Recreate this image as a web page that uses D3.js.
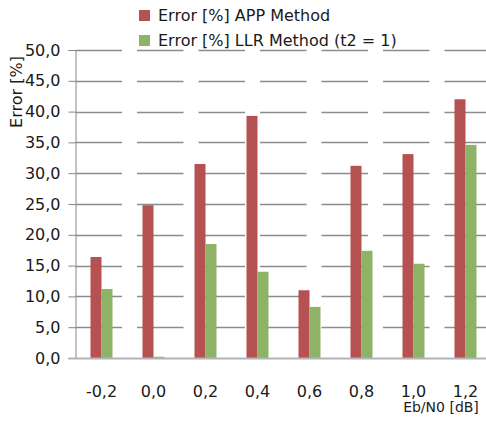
<!DOCTYPE html>
<html>
<head>
<meta charset="utf-8">
<script src="https://cdn.jsdelivr.net/npm/d3@7"></script>
<style>
  body { margin: 0; background: #fff; }
  text { font-family: "DejaVu Sans", sans-serif; fill: #1a1a1a; }
</style>
</head>
<body>
<div id="chart"></div>
<script>
// chart data
var categories = ["-0,2", "0,0", "0,2", "0,4", "0,6", "0,8", "1,0", "1,2"];
var appValues = [16.4, 24.8, 31.5, 39.3, 11.0, 31.2, 33.1, 42.0];
var llrValues = [11.2, 0.2, 18.5, 14.0, 8.3, 17.4, 15.3, 34.6];
var seriesNames = ["Error [%] APP Method", "Error [%] LLR Method (t2 = 1)"];
var yTicks = [0, 5, 10, 15, 20, 25, 30, 35, 40, 45, 50];

var svgWidth = 486;
var svgHeight = 421;
var colors = ["#b55150", "#8db466"];

var svg = d3.select("#chart")
  .append("svg")
  .attr("width", svgWidth)
  .attr("height", svgHeight);

// plot frame (note: "top" is reserved on window)
var plotLeft = 75.5, plotTop = 50, plotBottom = 358;

var x = d3.scaleBand()
  .domain(categories)
  .range([plotLeft, plotLeft + categories.length * 52])
  .paddingInner(30 / 52)
  .paddingOuter(15 / 52);

var xSub = d3.scaleBand()
  .domain([0, 1])
  .range([0, x.bandwidth()]);

var y = d3.scaleLinear()
  .domain([0, 50])
  .range([plotBottom, plotTop]);

// gridlines (broken segments like the original)
svg.append("g")
  .selectAll("line")
  .data(yTicks.filter(d => d > 0))
  .enter()
  .append("line")
  .attr("x1", plotLeft)
  .attr("x2", svgWidth)
  .attr("y1", d => Math.round(y(d)) + 0.5)
  .attr("y2", d => Math.round(y(d)) + 0.5)
  .attr("stroke", "#8c8c8c")
  .attr("stroke-width", 1.3)
  .attr("stroke-dasharray", "46.5,15");

// bars
var rows = categories.map((c, i) => ({cat: c, vals: [appValues[i], llrValues[i]]}));

var groups = svg.append("g")
  .selectAll("g")
  .data(rows)
  .enter()
  .append("g")
  .attr("transform", d => `translate(${x(d.cat)},0)`);

groups.selectAll("rect")
  .data(d => d.vals.map((v, k) => ({v: v, k: k})))
  .enter()
  .append("rect")
  .attr("x", d => xSub(d.k))
  .attr("width", xSub.bandwidth())
  .attr("y", d => y(d.v))
  .attr("height", d => plotBottom - y(d.v))
  .attr("fill", d => colors[d.k]);

// y axis
var leftAxis = d3.axisLeft(y)
  .tickValues(yTicks)
  .tickSize(7)
  .tickPadding(8)
  .tickFormat(d => d3.format(".1f")(d).replace(".", ","));

var yAxisG = svg.append("g")
  .attr("transform", `translate(${plotLeft},0)`)
  .call(leftAxis);
yAxisG.select(".domain").attr("stroke", "#868686");
yAxisG.selectAll(".tick line").attr("stroke", "#868686");
yAxisG.selectAll("text")
  .attr("font-size", 16)
  .attr("font-family", "DejaVu Sans")
  .attr("fill", "#1a1a1a");

// x axis line
svg.append("line")
  .attr("x1", plotLeft - 7)
  .attr("x2", svgWidth)
  .attr("y1", plotBottom + 0.5)
  .attr("y2", plotBottom + 0.5)
  .attr("stroke", "#b3b3b3")
  .attr("stroke-width", 2);

// x labels
svg.append("g")
  .selectAll("text")
  .data(categories)
  .enter()
  .append("text")
  .attr("x", d => x(d) + x.bandwidth() / 2)
  .attr("y", 397)
  .attr("text-anchor", "middle")
  .attr("font-size", 16)
  .text(d => d);

// axis titles
svg.append("text")
  .attr("transform", "translate(22,92) rotate(-90)")
  .attr("text-anchor", "middle")
  .attr("font-size", 16)
  .text("Error [%]");

svg.append("text")
  .attr("x", 441)
  .attr("y", 412)
  .attr("text-anchor", "middle")
  .attr("font-size", 14)
  .text("Eb/N0 [dB]");

// legend
var legend = svg.append("g")
  .selectAll("g")
  .data(seriesNames)
  .enter()
  .append("g")
  .attr("transform", (d, i) => `translate(139,${10 + i * 25})`);

legend.append("rect")
  .attr("width", 11)
  .attr("height", 11)
  .attr("fill", (d, i) => colors[i]);

legend.append("text")
  .attr("x", 19)
  .attr("y", 11)
  .attr("font-size", 16)
  .text(d => d);
</script>
</body>
</html>
